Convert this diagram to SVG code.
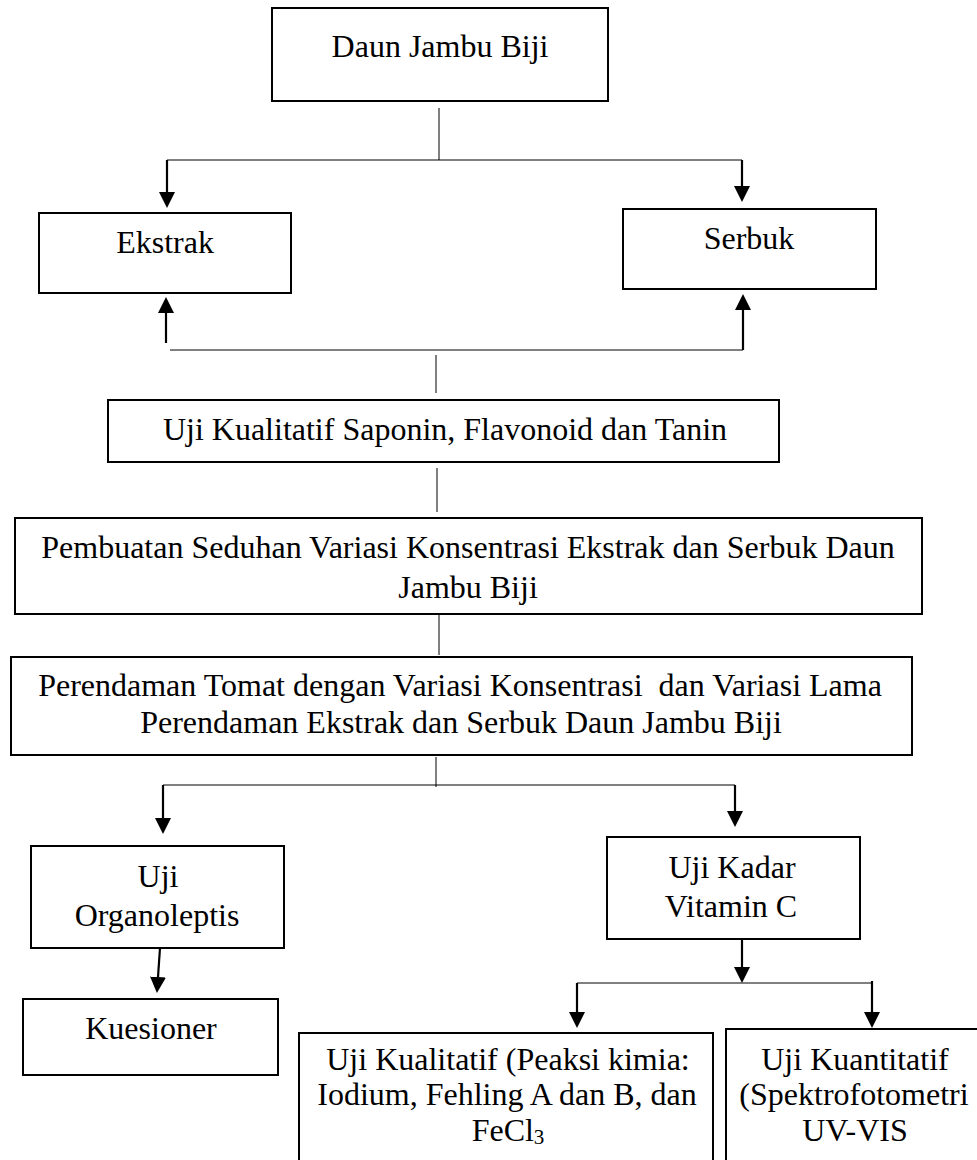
<svg xmlns="http://www.w3.org/2000/svg" width="977" height="1160" viewBox="0 0 977 1160">
<style>
.box{fill:#fff;stroke:#000;stroke-width:2}
.t{font-family:"Liberation Serif","Times New Roman",serif;font-size:32px;fill:#000;text-anchor:middle}
.thin{stroke:#000;stroke-width:1;fill:none}
.arr{stroke:#000;stroke-width:2.2;fill:none;marker-end:url(#ah)}
</style>
<defs>
<marker id="ah" markerUnits="userSpaceOnUse" markerWidth="16" markerHeight="16" refX="0" refY="8" orient="auto" viewBox="0 0 16 16">
<path d="M0,0 L16,8 L0,16 z" fill="#000"/>
</marker>
</defs>
<rect width="977" height="1160" fill="#fff"/>
<g id="connectors">
<line class="thin" x1="439" y1="108" x2="439" y2="160"/>
<line class="thin" x1="167" y1="160" x2="742" y2="160"/>
<line class="arr" x1="167" y1="160" x2="167" y2="192"/>
<line class="arr" x1="742" y1="160" x2="742" y2="186"/>
<line class="arr" x1="166" y1="343" x2="166" y2="313"/>
<line class="arr" x1="743" y1="350" x2="743" y2="310"/>
<line class="thin" x1="170" y1="350" x2="743" y2="350"/>
<line class="thin" x1="436" y1="355" x2="436" y2="393"/>
<line class="thin" x1="437" y1="468" x2="437" y2="512"/>
<line class="thin" x1="439" y1="610" x2="439" y2="655"/>
<line class="thin" x1="436" y1="757" x2="436" y2="787"/>
<line class="thin" x1="163" y1="785" x2="735" y2="785"/>
<line class="arr" x1="163" y1="785" x2="163" y2="818"/>
<line class="arr" x1="735" y1="785" x2="735" y2="811"/>
<line class="arr" x1="160" y1="948" x2="158" y2="977"/>
<line class="arr" x1="742" y1="939" x2="742" y2="967"/>
<line class="thin" x1="577" y1="983" x2="872" y2="983"/>
<line class="arr" x1="577" y1="983" x2="577" y2="1012"/>
<line class="arr" x1="872" y1="981" x2="872" y2="1012"/>
</g>
<g id="daun">
<rect class="box" x="272" y="8" width="336" height="93"/>
<text class="t" x="440" y="57">Daun Jambu Biji</text>
</g>
<g id="ekstrak">
<rect class="box" x="39" y="213" width="252" height="80"/>
<text class="t" x="165" y="253">Ekstrak</text>
</g>
<g id="serbuk">
<rect class="box" x="623" y="209" width="253" height="80"/>
<text class="t" x="749" y="249">Serbuk</text>
</g>
<g id="ujikualitatif">
<rect class="box" x="108" y="400" width="671" height="62"/>
<text class="t" x="445" y="440">Uji Kualitatif Saponin, Flavonoid dan Tanin</text>
</g>
<g id="pembuatan">
<rect class="box" x="15" y="518" width="907" height="96"/>
<text class="t" x="468" y="558">Pembuatan Seduhan Variasi Konsentrasi Ekstrak dan Serbuk Daun</text>
<text class="t" x="468" y="598">Jambu Biji</text>
</g>
<g id="perendaman">
<rect class="box" x="11" y="657" width="901" height="98"/>
<text class="t" x="460" y="696" style="white-space:pre">Perendaman Tomat dengan Variasi Konsentrasi  dan Variasi Lama</text>
<text class="t" x="461" y="733">Perendaman Ekstrak dan Serbuk Daun Jambu Biji</text>
</g>
<g id="organoleptis">
<rect class="box" x="31" y="846" width="253" height="102"/>
<text class="t" x="158" y="887">Uji</text>
<text class="t" x="157" y="926">Organoleptis</text>
</g>
<g id="kuesioner">
<rect class="box" x="23" y="999" width="255" height="76"/>
<text class="t" x="151" y="1039">Kuesioner</text>
</g>
<g id="kadar">
<rect class="box" x="607" y="837" width="253" height="102"/>
<text class="t" x="732" y="878">Uji Kadar</text>
<text class="t" x="731" y="917">Vitamin C</text>
</g>
<g id="kualitatif2">
<rect class="box" x="299" y="1033" width="414" height="150"/>
<text class="t" x="508" y="1070">Uji Kualitatif (Peaksi kimia:</text>
<text class="t" x="507" y="1105">Iodium, Fehling A dan B, dan</text>
<text class="t" x="508" y="1141">FeCl<tspan font-size="21" dy="3">3</tspan></text>
</g>
<g id="kuantitatif">
<rect class="box" x="726" y="1029" width="270" height="150"/>
<text class="t" x="855" y="1070">Uji Kuantitatif</text>
<text class="t" x="854" y="1105">(Spektrofotometri</text>
<text class="t" x="855" y="1141">UV-VIS</text>
</g>
</svg>
